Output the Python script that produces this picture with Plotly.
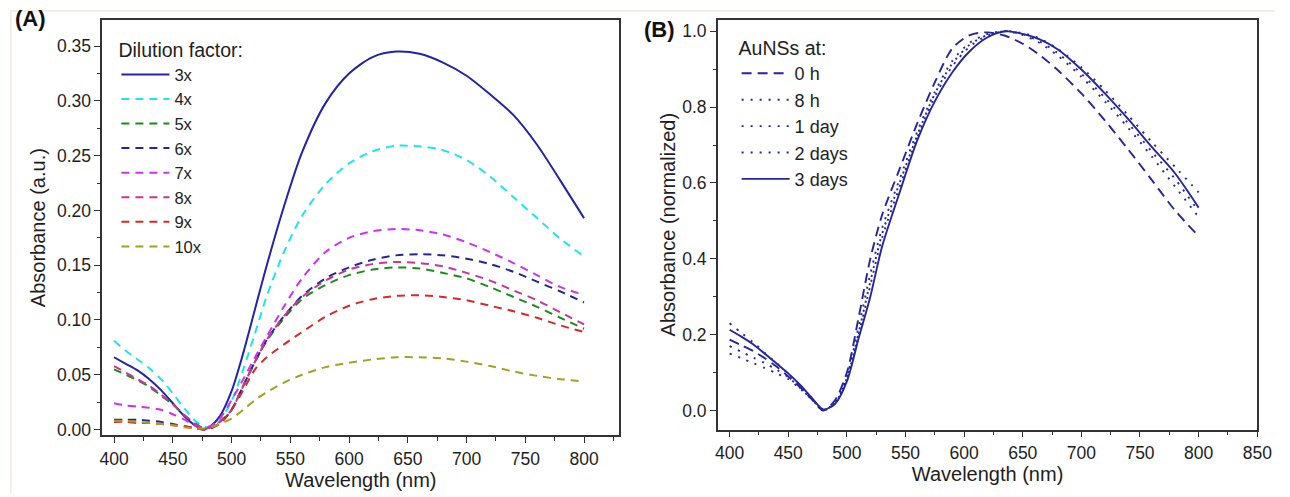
import plotly.graph_objects as go

W, H = 1290, 497

# ---------------- Panel A data ----------------
wl_a = [400, 410, 420, 430, 440, 450, 460, 470, 476, 482, 490, 500, 510, 520, 530,
        545, 560, 580, 600, 620, 640, 660, 680, 700, 720, 740, 760, 780, 800]

dil_3x = [.066, .060, .054, .046, .036, .024, .012, .003, .000, .003, .012, .035, .070, .110, .150,
          .205, .253, .298, .325, .340, .345, .343, .335, .323, .306, .287, .260, .227, .193]
dil_4x = [.081, .072, .064, .056, .046, .033, .019, .007, .003, .002, .008, .026, .055, .088, .122,
          .163, .195, .224, .243, .254, .259, .2585, .255, .246, .231, .212, .193, .174, .158]
dil_5x = [.055, .050, .045, .039, .031, .023, .013, .005, .001, .002, .007, .018, .040, .062, .081,
          .102, .119, .132, .141, .146, .148, .147, .143, .138, .130, .121, .112, .102, .092]
dil_6x = [.009, .009, .009, .008, .007, .005, .003, .001, .000, .001, .006, .018, .040, .062, .082,
          .104, .122, .138, .148, .155, .159, .160, .159, .156, .151, .144, .135, .126, .116]
dil_7x = [.024, .022, .021, .020, .018, .014, .009, .003, .002, .003, .010, .027, .046, .066, .085,
          .113, .138, .162, .175, .181, .183, .182, .178, .171, .162, .152, .141, .130, .123]
dil_8x = [.058, .052, .046, .040, .032, .023, .013, .004, .001, .002, .007, .018, .040, .062, .082,
          .104, .121, .136, .146, .151, .153, .152, .149, .143, .136, .127, .118, .107, .096]
dil_9x = [.007, .007, .006, .006, .005, .004, .003, .001, .000, .001, .005, .018, .036, .055, .066,
          .078, .089, .103, .113, .119, .122, .1225, .121, .118, .113, .108, .102, .095, .089]
dil_10x = [.008, .008, .007, .006, .005, .004, .002, .001, .001, .002, .005, .010, .018, .027, .034,
           .043, .050, .057, .061, .064, .066, .066, .065, .062, .058, .053, .049, .046, .044]

names_a = ["3x", "4x", "5x", "6x", "7x", "8x", "9x", "10x"]
series_a = [dil_3x, dil_4x, dil_5x, dil_6x, dil_7x, dil_8x, dil_9x, dil_10x]
colors_a = ["#2323a6", "#19e6ee", "#1b8c1b", "#262690", "#cc33ee", "#cc3399", "#d42a2a", "#a3a022"]
dashes_a = ["solid"] + ["8px,6px"] * 7

# ---------------- Panel B data ----------------
wl_b = [400, 410, 420, 430, 440, 450, 460, 470, 480, 490, 500, 510, 520, 530, 545,
        560, 575, 590, 605, 620, 635, 650, 665, 680, 700, 720, 740, 760, 780, 800]

t_0h = [.187, .172, .157, .138, .116, .090, .062, .030, .000, .028, .100, .245, .400, .515, .637,
        .757, .865, .955, .990, .997, .988, .967, .936, .897, .836, .765, .688, .608, .527, .460]
t_8h = [.230, .205, .180, .152, .125, .097, .066, .032, .001, .022, .090, .220, .360, .480, .610,
        .735, .840, .922, .970, .993, 1.00, .990, .968, .935, .880, .815, .745, .670, .590, .510]
t_1d = [.170, .155, .140, .125, .108, .088, .060, .030, .001, .020, .085, .205, .340, .465, .600,
        .725, .835, .915, .965, .990, 1.00, .995, .980, .953, .905, .845, .778, .708, .642, .575]
t_2d = [.150, .138, .125, .112, .098, .083, .058, .030, .002, .020, .082, .200, .330, .455, .590,
        .720, .828, .908, .960, .988, 1.00, .992, .972, .942, .888, .825, .757, .683, .610, .525]
t_3d = [.213, .195, .175, .150, .124, .098, .068, .034, .003, .018, .077, .190, .300, .432, .575,
        .712, .815, .892, .948, .984, 1.00, .993, .978, .952, .899, .836, .768, .695, .625, .535]

names_b = ["0 h", "8 h", "1 day", "2 days", "3 days"]
series_b = [t_0h, t_8h, t_1d, t_2d, t_3d]
dashes_b = ["10px,6px", "2px,7px", "2px,7px", "2px,7px", "solid"]
color_b = "#25259c"

FONT = "Liberation Sans, Arial, Helvetica, sans-serif"
TXT = "#1e1e1e"
TICK_SIZE = 17.5
TITLE_SIZE = 20

fig = go.Figure()
for n, s, c, d in zip(names_a, series_a, colors_a, dashes_a):
    fig.add_trace(go.Scatter(x=wl_a, y=s, name=n, mode="lines", xaxis="x", yaxis="y",
                             line=dict(color=c, width=2, dash=d, shape="spline", smoothing=0.8),
                             legend="legend"))
for n, s, d in zip(names_b, series_b, dashes_b):
    fig.add_trace(go.Scatter(x=wl_b, y=s, name=n, mode="lines", xaxis="x2", yaxis="y2",
                             line=dict(color=color_b, width=1.9, dash=d, shape="spline", smoothing=0.8),
                             legend="legend2"))

xa_dom = [100.7 / W, 625 / W]
xb_dom = [725 / W, 1272 / W]
ya_dom = [(H - 439) / H, (H - 20) / H]
yb_dom = [(H - 433) / H, (H - 20) / H]
xa_rng = [390, 830]
xb_rng = [390, 850]
ya_rng = [-0.0054, 0.374]
yb_rng = [-0.05, 1.03]

axcommon = dict(showgrid=False, zeroline=False, linecolor="#333", linewidth=1.6,
                tickcolor="#333", tickwidth=1.4, ticklen=6,
                tickfont=dict(family=FONT, size=TICK_SIZE, color=TXT))

def minor(d):
    return dict(dtick=d, ticklen=3.5, tickcolor="#333", tickwidth=1.3, showgrid=False)

def title(t, standoff):
    return dict(text=t, standoff=standoff, font=dict(family=FONT, size=TITLE_SIZE, color=TXT))

layout = dict(
    width=W, height=H, margin=dict(l=0, r=0, t=0, b=0),
    paper_bgcolor="white", plot_bgcolor="white",
    font=dict(family=FONT, size=16, color=TXT),
    xaxis=dict(domain=xa_dom, range=xa_rng, anchor="y", ticks="outside", tick0=400, dtick=50,
               showline=True, mirror=True, minor=minor(25), ticklabelstandoff=1,
               title=title("Wavelength (nm)", 0), **axcommon),
    yaxis=dict(domain=ya_dom, range=ya_rng, anchor="x", ticks="outside", tick0=0, dtick=0.05,
               showline=True, mirror=True, tickformat=".2f", minor=minor(0.025),
               title=title("Absorbance (a.u.)", 6), **axcommon),
    xaxis3=dict(overlaying="x", side="top", anchor="y", range=xa_rng, ticks="inside", tick0=400,
                dtick=50, minor=minor(25), showticklabels=False, showline=False, **axcommon),
    yaxis3=dict(overlaying="y", side="right", anchor="x", range=ya_rng, ticks="inside", tick0=0,
                dtick=0.05, minor=minor(0.025), showticklabels=False, showline=False, **axcommon),
    xaxis2=dict(domain=xb_dom, range=xb_rng, anchor="y2", ticks="outside", tick0=400, dtick=50,
                showline=True, mirror=True, minor=minor(25), ticklabelstandoff=1,
                title=title("Wavelength (nm)", 3), **axcommon),
    yaxis2=dict(domain=yb_dom, range=yb_rng, anchor="x2", ticks="outside", tick0=0, dtick=0.2,
                showline=True, mirror=True, tickformat=".1f", minor=minor(0.1),
                title=title("Absorbance (normalized)", 1), **axcommon),
    xaxis4=dict(overlaying="x2", side="top", anchor="y2", range=xb_rng, ticks="inside", tick0=400,
                dtick=50, minor=minor(25), showticklabels=False, showline=False, **axcommon),
    yaxis4=dict(overlaying="y2", side="right", anchor="x2", range=yb_rng, ticks="inside", tick0=0,
                dtick=0.2, minor=minor(0.1), showticklabels=False, showline=False, **axcommon),
    legend=dict(x=115 / W, y=(H - 32) / H, xanchor="left", yanchor="top",
                bgcolor="rgba(0,0,0,0)", borderwidth=0, itemwidth=48, tracegroupgap=0,
                title=dict(text="Dilution factor:", font=dict(family=FONT, size=19.5, color=TXT)),
                font=dict(family=FONT, size=16.6, color=TXT)),
    legend2=dict(x=744 / W, y=(H - 30) / H, xanchor="left", yanchor="top",
                 bgcolor="rgba(0,0,0,0)", borderwidth=0, itemwidth=48, tracegroupgap=0,
                 title=dict(text="AuNSs at:", font=dict(family=FONT, size=19.5, color=TXT)),
                 font=dict(family=FONT, size=18, color=TXT)),
    showlegend=True,
    annotations=[
        dict(text="<b>(A)</b>", xref="paper", yref="paper", x=10 / W, y=(H - 19) / H,
             xanchor="left", yanchor="middle", showarrow=False,
             font=dict(family=FONT, size=22, color="#111")),
        dict(text="<b>(B)</b>", xref="paper", yref="paper", x=648 / W, y=(H - 30) / H,
             xanchor="left", yanchor="middle", showarrow=False,
             font=dict(family=FONT, size=22, color="#111")),
    ],
    shapes=[
        dict(type="line", xref="paper", yref="paper", x0=8 / W, x1=1, y0=(H - 11) / H, y1=(H - 11) / H,
             line=dict(color="#efe4d8", width=1.2)),
        dict(type="line", xref="paper", yref="paper", x0=8 / W, x1=8 / W, y0=0, y1=(H - 11) / H,
             line=dict(color="#efe4d8", width=1.2)),
    ],
)
fig.update_layout(**layout)
fig.write_html("out.html")
